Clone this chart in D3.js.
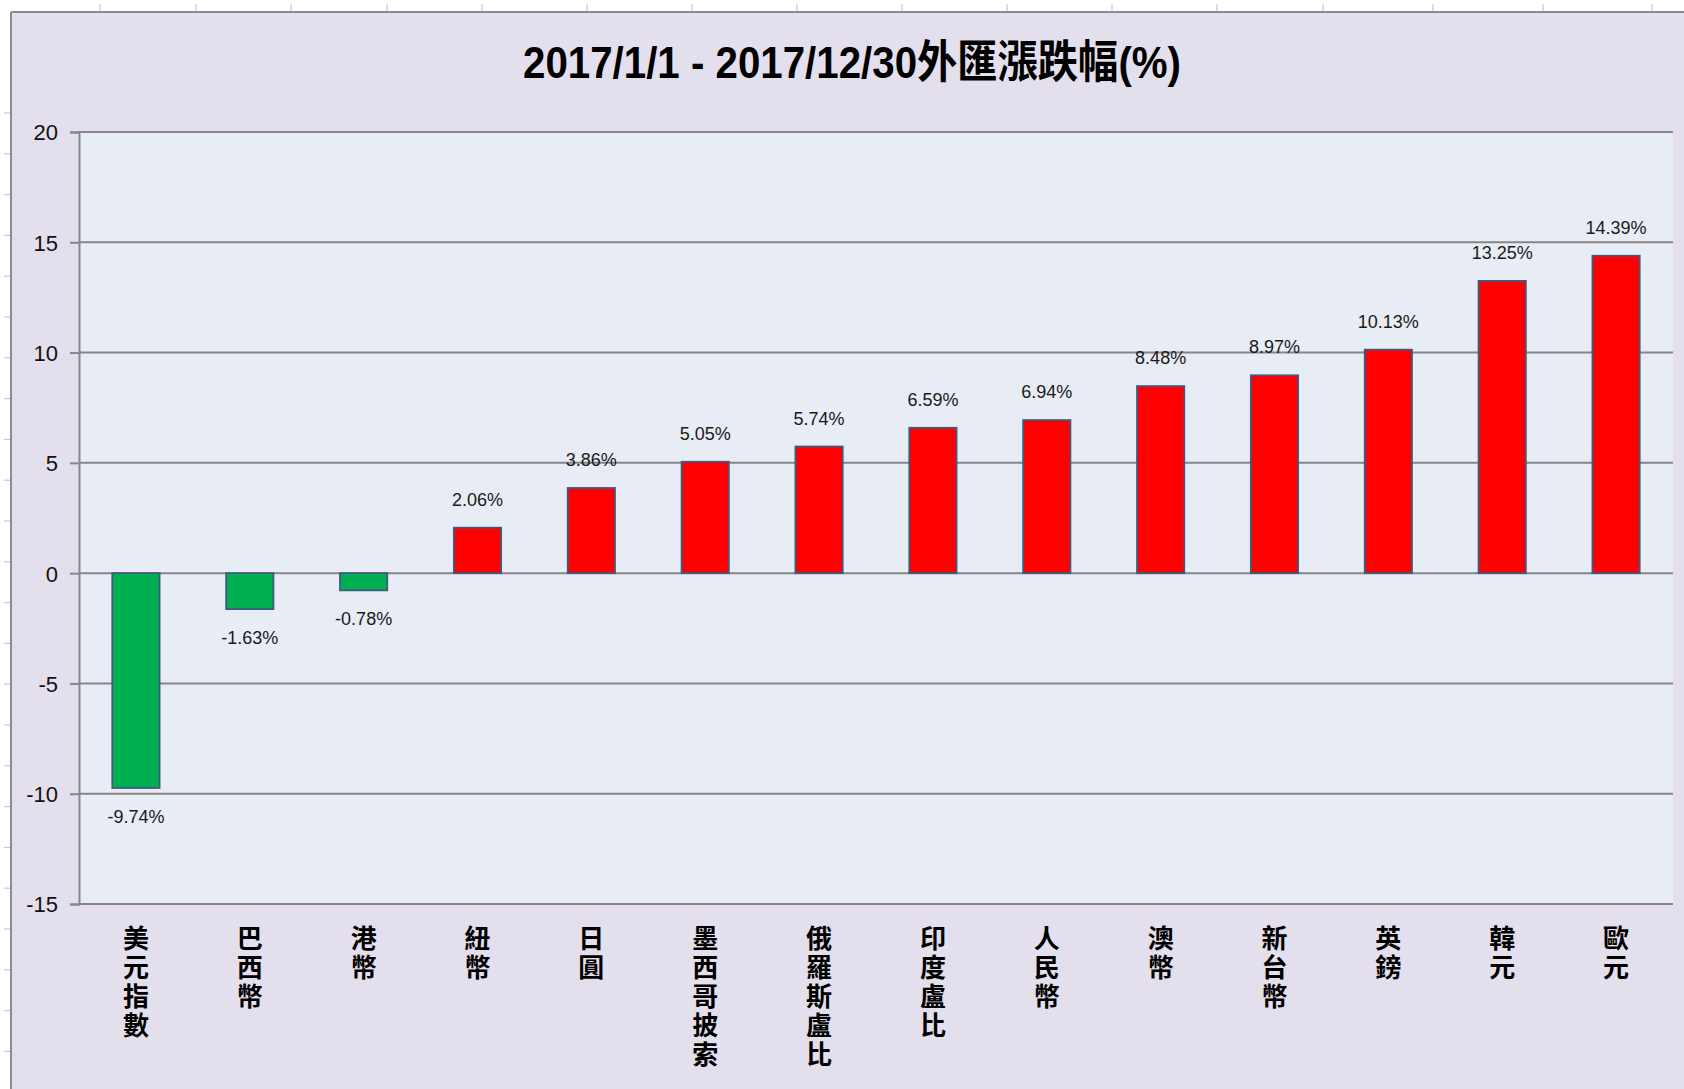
<!DOCTYPE html>
<html><head><meta charset="utf-8">
<script src="https://cdn.jsdelivr.net/npm/d3@7"></script>
<style>
html,body{margin:0;padding:0;background:#fff;}
svg{display:block;}
.vlabel{writing-mode:vertical-rl;text-orientation:upright;}
</style></head>
<body>
<svg id="chart" width="1684" height="1089"></svg>
<script>
const title = "2017/1/1 - 2017/12/30外匯漲跌幅(%)";
const categories = ["美元指數","巴西幣","港幣","紐幣","日圓","墨西哥披索","俄羅斯盧比","印度盧比","人民幣","澳幣","新台幣","英鎊","韓元","歐元"];
const values = [-9.74,-1.63,-0.78,2.06,3.86,5.05,5.74,6.59,6.94,8.48,8.97,10.13,13.25,14.39];
const yTicks = [20,15,10,5,0,-5,-10,-15];

const svg = d3.select("#chart");
const W = 1684, H = 1089;
const plot = {left:79, right:1673, top:132, bottom:904};

// outside ruler area (white) and chart background
svg.append("rect").attr("x",0).attr("y",0).attr("width",W).attr("height",H).attr("fill","#ffffff");
const rulerG = svg.append("g").attr("stroke","#c9c9c9").attr("stroke-width",1.2);
d3.range(113, H, 40.8).forEach(y => rulerG.append("line").attr("x1",4).attr("x2",11).attr("y1",y).attr("y2",y));
[100,196,291,387,482,587,692,797,902,1007,1112,1217,1323,1433,1543,1652].forEach(x =>
  rulerG.append("line").attr("x1",x).attr("x2",x).attr("y1",4).attr("y2",12));

svg.append("rect").attr("x",11).attr("y",12).attr("width",W-11).attr("height",H-12).attr("fill","#E4DFEC");
svg.append("line").attr("x1",11).attr("x2",11).attr("y1",12).attr("y2",H).attr("stroke","#8c8c8c").attr("stroke-width",2);
svg.append("line").attr("x1",11).attr("x2",W).attr("y1",12).attr("y2",12).attr("stroke","#8c8c8c").attr("stroke-width",2);

// plot area
svg.append("rect").attr("x",plot.left).attr("y",plot.top).attr("width",plot.right-plot.left).attr("height",plot.bottom-plot.top).attr("fill","#E8ECF4");

const x = d3.scaleBand().domain(categories).range([plot.left, plot.right]).padding(0);
const y = d3.scaleLinear().domain([-15,20]).range([plot.bottom, plot.top]);

// gridlines
svg.append("g").selectAll("line").data(yTicks).join("line")
  .attr("x1",plot.left).attr("x2",plot.right)
  .attr("y1",d=>y(d)).attr("y2",d=>y(d))
  .attr("stroke","#868686").attr("stroke-width",2);

// y axis
const yAxis = d3.axisLeft(y).tickValues(yTicks).tickSize(9).tickPadding(12).tickFormat(d => String(d));
const ya = svg.append("g").attr("transform",`translate(${plot.left},0)`).call(yAxis);
ya.select(".domain").attr("stroke","#868686").attr("stroke-width",2);
ya.selectAll(".tick line").attr("stroke","#868686").attr("stroke-width",2);
ya.selectAll(".tick text").attr("font-family","'Liberation Sans', Arial, sans-serif").attr("font-size",22).attr("fill","#111").attr("dy","0.36em");

// bars
const bw = x.bandwidth()*0.415;
svg.append("g").selectAll("rect").data(values).join("rect")
  .attr("x",(d,i)=>x(categories[i]) + x.bandwidth()/2 - bw/2)
  .attr("y",d=>y(Math.max(0,d)))
  .attr("width",bw)
  .attr("height",d=>Math.abs(y(d)-y(0)))
  .attr("fill",d=>d<0?"#00B050":"#FF0000")
  .attr("stroke","#3B5B80").attr("stroke-width",1.8);

// data labels
svg.append("g").selectAll("text").data(values).join("text")
  .attr("x",(d,i)=>x(categories[i]) + x.bandwidth()/2)
  .attr("y",d=> d<0 ? y(d)+35 : y(d)-22)
  .attr("text-anchor","middle")
  .attr("font-family","'Liberation Sans', Arial, sans-serif")
  .attr("font-size",18).attr("fill","#1a1a1a")
  .text(d=>d.toFixed(2)+"%");

// category labels (vertical)
svg.append("g").selectAll("text").data(categories).join("text")
  .attr("class","vlabel")
  .attr("x",d=>x(d)+x.bandwidth()/2)
  .attr("y",925)
  .attr("font-family","'Noto Sans CJK TC','Noto Sans CJK SC',sans-serif")
  .attr("font-weight","bold").attr("font-size",26).attr("fill","#000")
  .attr("letter-spacing",3)
  .text(d=>d);

// title
svg.append("text").attr("x",523).attr("y",78)
  .attr("font-family","'Liberation Sans','Noto Sans CJK TC',Arial,sans-serif")
  .attr("font-weight","bold").attr("font-size",45).attr("fill","#000")
  .attr("textLength",658).attr("lengthAdjust","spacingAndGlyphs")
  .text(title);
</script>
</body></html>
